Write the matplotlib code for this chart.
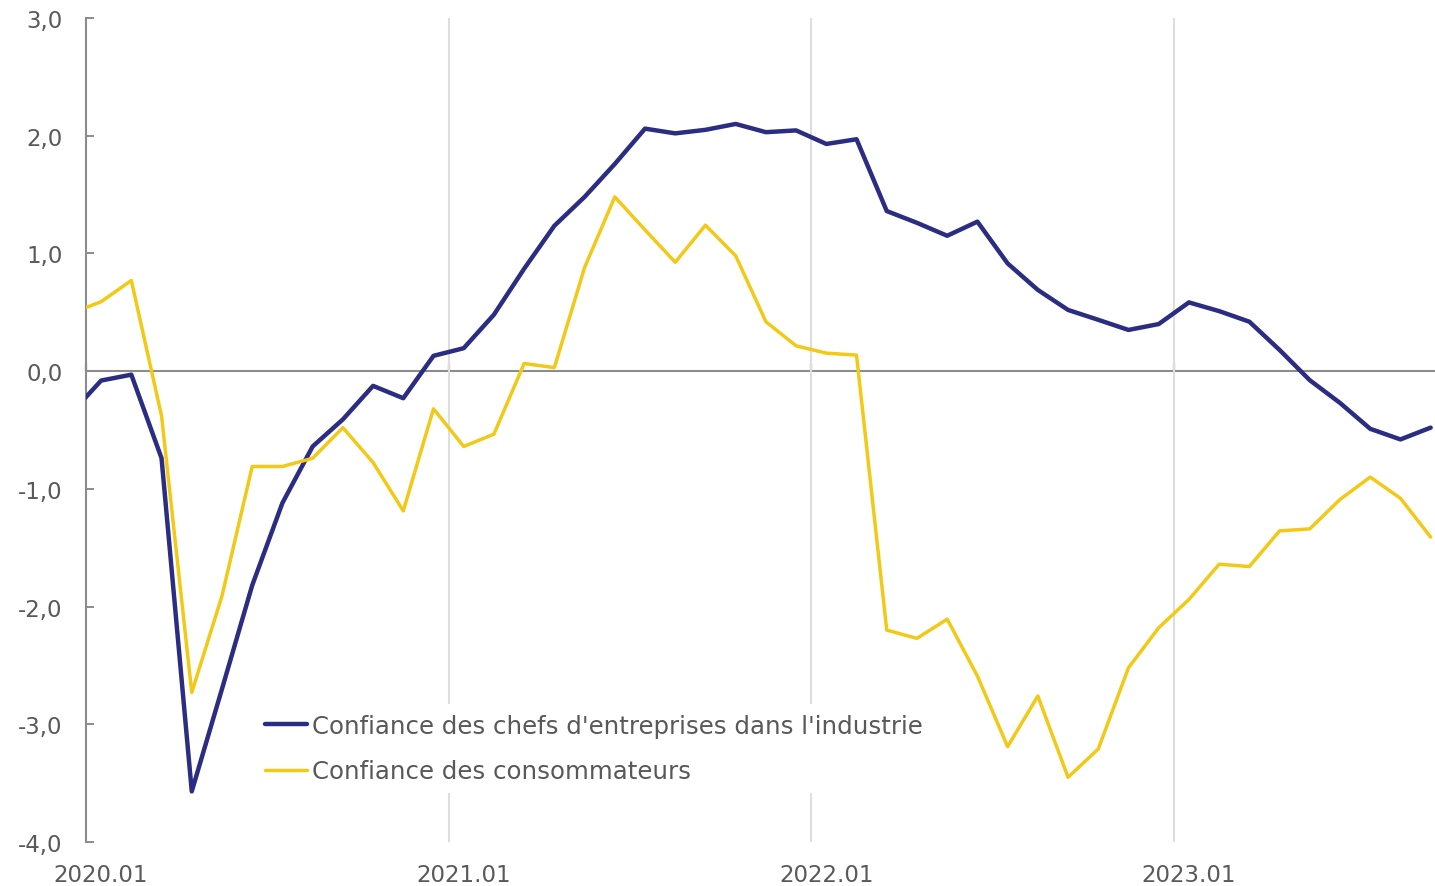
import matplotlib
matplotlib.use("Agg")
import matplotlib.pyplot as plt
import numpy as np

# Monthly observations (Dec 2019 .. Sep 2023)
months = [f"{2019 + (m + 11) // 12}.{(m + 11) % 12 + 1:02d}" for m in range(46)]
industrie = [-0.36, -0.08, -0.03, -0.74, -3.57, -2.70, -1.82, -1.12, -0.64, -0.41,
             -0.125, -0.23, 0.13, 0.195, 0.48, 0.87, 1.235, 1.48, 1.76, 2.06,
             2.02, 2.05, 2.10, 2.03, 2.045, 1.93, 1.97, 1.36, 1.26, 1.15,
             1.27, 0.915, 0.69, 0.52, 0.436, 0.35, 0.40, 0.584, 0.51, 0.42,
             0.18, -0.077, -0.27, -0.49, -0.58, -0.48]
consommateurs = [0.49, 0.59, 0.77, -0.38, -2.73, -1.91, -0.81, -0.81, -0.74, -0.48,
                 -0.776, -1.187, -0.32, -0.64, -0.535, 0.065, 0.03, 0.88, 1.48, 1.20,
                 0.925, 1.24, 0.98, 0.42, 0.215, 0.153, 0.136, -2.20, -2.27, -2.107,
                 -2.59, -3.19, -2.76, -3.45, -3.21, -2.52, -2.18, -1.94, -1.64, -1.66,
                 -1.357, -1.34, -1.09, -0.90, -1.08, -1.41]
xtick_labels = ["2020.01", "2021.01", "2022.01", "2023.01"]
ytick_vals = [3, 2, 1, 0, -1, -2, -3, -4]
series_names = ["Confiance des chefs d'entreprises dans l'industrie",
                "Confiance des consommateurs"]

BLUE = "#2b2d82"
YELLOW = "#f2c916"
TXT = "#595959"
AX = "#8c8c8c"
GRID = "#dedede"
FONT = "DejaVu Sans"
FS = 16.5
LFS = 17.6

plt.rcParams['font.family'] = [FONT]

fig = plt.figure(figsize=(14.35, 8.87), dpi=100)
ax = fig.add_axes([86 / 1435, 1 - 843 / 887, 1 - 86 / 1435 - 0.0005, (843 - 19) / 887])

# positions: month index relative to Jan 2020, points at mid-month
x = np.arange(len(months)) - 1 + 0.5

ax.plot(x, industrie, color=BLUE, lw=3.2, label=series_names[0], zorder=3,
        solid_joinstyle='round', solid_capstyle='round')
ax.plot(x, consommateurs, color=YELLOW, lw=2.5, label=series_names[1], zorder=3,
        solid_joinstyle='round', solid_capstyle='round')

ax.set_xlim(0, 44.62)
ax.set_ylim(-4, 3)

# y axis
ax.set_yticks(ytick_vals)
ax.set_yticklabels([f"{v:.1f}".replace(".", ",") for v in ytick_vals])
ax.tick_params(axis='y', direction='in', length=5.8, width=1.4, color=AX,
               labelsize=FS, labelcolor=TXT, pad=17)

# x tick labels at mid-month positions
ax.set_xticks([0.5, 12.5, 24.5, 36.5])
ax.set_xticklabels(xtick_labels)
ax.tick_params(axis='x', length=0, labelsize=FS, labelcolor=TXT, pad=15)

# vertical gridlines at year boundaries
ax.set_xticks([12, 24, 36], minor=True)
ax.tick_params(axis='x', which='minor', length=0)
ax.grid(True, which='minor', axis='x', color=GRID, lw=1.5, zorder=0)
ax.grid(False, which='major')

for s in ['top', 'right', 'bottom']:
    ax.spines[s].set_visible(False)
ax.spines['left'].set_color(AX)
ax.spines['left'].set_linewidth(1.5)

# zero line axis with small upward ticks
sec = ax.secondary_xaxis(4 / 7)
sec.set_xticks([0, 12, 24, 36])
sec.tick_params(axis='x', direction='out', length=5.8, width=1.6, color=AX,
                labeltop=False, labelbottom=False)
for s in ['top', 'bottom']:
    sec.spines[s].set_color(AX)
    sec.spines[s].set_linewidth(1.5)

leg = ax.legend(loc='upper left', bbox_to_anchor=(255 / 1435, 1 - 705 / 887),
                bbox_transform=fig.transFigure, frameon=True, fancybox=False,
                edgecolor='none', facecolor='white', framealpha=1.0,
                fontsize=LFS, handlelength=1.73, handletextpad=0.2,
                labelspacing=0.88, borderpad=0.4, borderaxespad=0)
for t in leg.get_texts():
    t.set_color(TXT)
leg.set_zorder(5)

fig.savefig("out.png", dpi=100)
